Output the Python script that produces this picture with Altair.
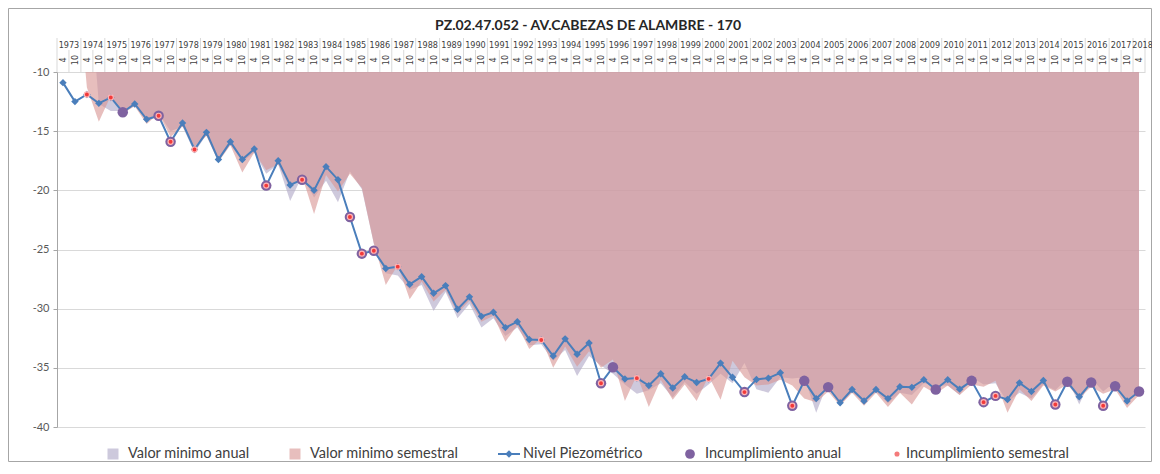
import altair as alt
import pandas as pd

TITLE = "PZ.02.47.052 - AV.CABEZAS DE ALAMBRE - 170"
years = list(range(1973, 2019))
months = ["4", "10"]

nivel = [
    -10.9, -12.5, -11.9, -12.65, -12.15, -13.4, -12.7, -14.0, -13.7, -15.9,
    -14.3, -16.55, -15.1, -17.4, -15.9, -17.4, -16.5, -19.6, -17.5, -19.55,
    -19.1, -20.0, -18.0, -19.1, -22.25, -25.35, -25.1, -26.6, -26.45, -27.95,
    -27.3, -28.7, -28.05, -30.05, -29.0, -30.65, -30.3, -31.6, -31.1, -32.6,
    -32.65, -34.0, -32.55, -33.85, -32.9, -36.3, -34.95, -35.95, -35.87, -36.5,
    -35.5, -36.7, -35.76, -36.24, -35.93, -34.6, -35.8, -37.05, -35.98, -35.87,
    -35.42, -38.2, -36.1, -37.6, -36.63, -37.95, -36.83, -37.8, -36.83, -37.6,
    -36.6, -36.65, -36.0, -36.83, -36.0, -36.8, -36.1, -37.9, -37.37, -37.67,
    -36.27, -37.0, -36.07, -38.1, -36.18, -37.45, -36.24, -38.2, -36.55, -37.8,
    -37.0,
]

minimo_semestral = [
    None, 0.0, -11.3, -14.2, -12.0, -13.5, -12.9, -14.4, -13.5, -15.5,
    -14.6, -16.3, -15.4, -17.6, -16.2, -18.5, -16.8, -18.3, -17.8, -19.8,
    -18.8, -22.0, -18.7, -20.1, -18.6, -19.8, -24.5, -28.0, -26.3, -29.2,
    -27.7, -29.4, -28.4, -30.4, -29.3, -31.1, -30.6, -32.8, -31.4, -33.4,
    -32.5, -35.0, -33.2, -34.9, -33.6, -35.0, -34.3, -37.8, -35.6, -38.3,
    -36.0, -37.7, -36.4, -37.8, -35.7, -37.7, -34.4, -35.8, -36.5, -36.4,
    -36.0, -36.5, -37.6, -37.9, -37.0, -38.2, -37.1, -38.2, -37.1, -38.3,
    -37.1, -38.1, -36.6, -37.2, -36.5, -37.3, -36.4, -36.6, -36.1, -38.8,
    -36.8, -37.8, -36.5, -37.0, -36.4, -37.6, -36.6, -37.2, -36.8, -38.4,
    -37.3,
]

minimo_anual = [
    None, None, 0.0, -12.7, -13.3, -13.3, -12.8, -14.0, -13.5, -15.0,
    -14.6, -16.8, -15.3, -17.5, -16.1, -17.6, -16.8, -18.6, -17.8, -20.9,
    -18.8, -20.6, -19.2, -21.0, -18.4, -19.9, -24.5, -27.0, -27.2, -28.4,
    -28.0, -30.2, -28.6, -30.8, -29.6, -31.6, -30.8, -32.3, -31.6, -33.1,
    -33.0, -34.4, -33.5, -35.7, -34.0, -34.8, -35.5, -36.4, -37.2, -36.9,
    -36.3, -37.5, -36.2, -37.2, -36.4, -35.5, -36.3, -34.6, -36.8, -37.1,
    -35.8, -35.9, -35.8, -38.8, -36.2, -38.1, -37.0, -38.0, -37.0, -38.0,
    -37.1, -37.3, -36.3, -36.5, -36.5, -37.3, -35.8, -36.4, -36.3, -37.9,
    -37.1, -37.6, -36.4, -36.9, -35.9, -38.1, -35.9, -37.0, -36.2, -38.1,
    -36.7,
]

# period indices (0 = 1973-4) with incumplimiento
incumplimiento_anual = [5, 8, 9, 17, 20, 24, 25, 26, 45, 46, 57, 61, 62, 64,
                        73, 76, 77, 78, 83, 84, 86, 87, 88, 90]
incumplimiento_semestral = [2, 4, 8, 9, 11, 17, 20, 24, 25, 26, 28, 40, 45, 48,
                            54, 57, 61, 77, 78, 83, 87]

legend_names = ["Valor minimo anual", "Valor minimo semestral", "Nivel Piezométrico",
                "Incumplimiento anual", "Incumplimiento semestral"]

periodos = [f"{y}-{m}" for y in years for m in months][:len(nivel)]
n = len(periodos)
df = pd.DataFrame({
    "idx": list(range(n)),
    "periodo": periodos,
    "nivel": nivel,
    "semestral": minimo_semestral,
    "anual": minimo_anual,
    "inc_a": [i in incumplimiento_anual for i in range(n)],
    "inc_s": [i in incumplimiento_semestral for i in range(n)],
})

# year label centred on its two half-year cells (the last year has one cell)
years_df = pd.DataFrame({
    "year": [str(y) for y in years],
    "pos": [2 * k + 0.5 if 2 * k + 1 < n else n - 1 + 0.3 for k in range(len(years))],
})
sub_df = pd.DataFrame({"idx": list(range(n)), "mes": [p.split("-")[1] for p in periodos]})
short_sep = pd.DataFrame({"b": [i + 0.5 for i in range(0, n - 1, 2)]})
long_sep = pd.DataFrame({"b": [i - 0.5 for i in range(0, n, 2)] + [n - 0.5]})

FONT = "Lato"
NARROW = "Liberation Sans Narrow, DejaVu Sans Condensed, Lato"
W, H = 1088, 355
COL_LAV, COL_PINK = "#B3ACC9", "#D99694"
COL_LINE, COL_PURP, COL_RED = "#4A7EBB", "#7F62A0", "#F23A3A"

xs = alt.Scale(domain=[-0.5, n - 0.5], nice=False, zero=False)
ys = alt.Scale(domain=[-40, -10], nice=False, zero=False)
X = alt.X("idx:Q", scale=xs, axis=None)
YAX = alt.Axis(
    values=[-10, -15, -20, -25, -30, -35, -40], title=None, grid=True,
    gridColor="#D9D9D9", domainColor="#A6A6A6", tickColor="#A6A6A6",
    tickSize=4, labelFont=FONT, labelFontSize=11, labelColor="#595959",
    labelPadding=4, labelExpr="toString(datum.value)")


def Y(field):
    return alt.Y(field, scale=ys, axis=YAX)


area_a = alt.Chart(df).mark_area(color=COL_LAV, opacity=0.65, clip=True).encode(
    x=X, y=Y("anual:Q"), y2=alt.datum(-10))
area_s = alt.Chart(df).mark_area(color=COL_PINK, opacity=0.62, clip=True).encode(
    x=X, y=Y("semestral:Q"), y2=alt.datum(-10))

line = alt.Chart(df).mark_line(color=COL_LINE, strokeWidth=2).encode(
    x=X, y=Y("nivel:Q"))
diamonds = alt.Chart(df).mark_point(shape="diamond", filled=True, size=55,
                                    color=COL_LINE, opacity=1).encode(
    x=X, y=Y("nivel:Q"))
inc_a = alt.Chart(df).transform_filter("datum.inc_a").mark_circle(
    size=110, color=COL_PURP, opacity=1).encode(x=X, y=Y("nivel:Q"))
inc_s = alt.Chart(df).transform_filter("datum.inc_s").mark_circle(
    size=26, color=COL_RED, stroke="#FFB4B4", strokeWidth=1.2, opacity=1).encode(
    x=X, y=Y("nivel:Q"))

# top two-level category axis
year_txt = alt.Chart(years_df).mark_text(font=NARROW, fontSize=9, color="#404040",
                                         baseline="middle").encode(
    x=alt.X("pos:Q", scale=xs), y=alt.value(-27), text="year:N")
sub_txt = alt.Chart(sub_df).mark_text(font=NARROW, fontSize=9, color="#404040",
                                      angle=270, baseline="middle", align="center").encode(
    x=alt.X("idx:Q", scale=xs), y=alt.value(-12), text="mes:N")
sep_s = alt.Chart(short_sep).mark_rule(color="#D9D9D9", strokeWidth=1).encode(
    x=alt.X("b:Q", scale=xs), y=alt.value(-22), y2=alt.value(0))
sep_l = alt.Chart(long_sep).mark_rule(color="#D9D9D9", strokeWidth=1).encode(
    x=alt.X("b:Q", scale=xs), y=alt.value(-34), y2=alt.value(0))

one = pd.DataFrame({"t": [TITLE]})
title = alt.Chart(one).mark_text(
    font=FONT, fontSize=14, fontWeight="bold", color="#262626", baseline="middle").encode(
    x=alt.value(531), y=alt.value(-46), text="t:N")

frame = alt.Chart(one).mark_rect(
    fillOpacity=0, stroke="#A6A6A6", strokeWidth=1).encode(
    x=alt.value(-48.5), x2=alt.value(1094.5), y=alt.value(-63.5), y2=alt.value(389.5))

# manual legend (layout positions in plot pixels)
LEG_Y = 382
leg_label_x = [71, 253, 466, 648, 849]
leg_df = pd.DataFrame({"serie": legend_names, "lx": leg_label_x})
leg_text = alt.Chart(leg_df).mark_text(
    font=FONT, fontSize=14.5, color="#404040", align="left", baseline="middle").encode(
    x=alt.X("lx:Q", scale=None), y=alt.value(LEG_Y), text="serie:N")
leg_sq1 = alt.Chart(one).mark_square(size=121, color="#CDC9DC", opacity=1).encode(
    x=alt.value(56), y=alt.value(LEG_Y))
leg_sq2 = alt.Chart(one).mark_square(size=121, color="#E7BEBD", opacity=1).encode(
    x=alt.value(238), y=alt.value(LEG_Y))
leg_ln = alt.Chart(one).mark_rule(color=COL_LINE, strokeWidth=2).encode(
    x=alt.value(441), x2=alt.value(463), y=alt.value(LEG_Y))
leg_dm = alt.Chart(one).mark_point(shape="diamond", filled=True, size=55,
                                   color=COL_LINE, opacity=1).encode(
    x=alt.value(452), y=alt.value(LEG_Y))
leg_pu = alt.Chart(one).mark_circle(size=95, color=COL_PURP, opacity=1).encode(
    x=alt.value(633), y=alt.value(LEG_Y))
leg_rd = alt.Chart(one).mark_circle(size=26, color="#F47A7A", opacity=1).encode(
    x=alt.value(840), y=alt.value(LEG_Y))

chart = alt.layer(
    frame, area_a, area_s, line, diamonds, inc_a, inc_s,
    sep_s, sep_l, year_txt, sub_txt, title,
    leg_text, leg_sq1, leg_sq2, leg_ln, leg_dm, leg_pu, leg_rd,
).properties(
    width=W, height=H, autosize=alt.AutoSizeParams(type="none"),
    padding={"left": 49, "top": 64, "right": 7, "bottom": 35},
    background="white",
).configure_view(stroke=None)

chart.save("out.html", embed_options={"renderer": "svg", "actions": False})
